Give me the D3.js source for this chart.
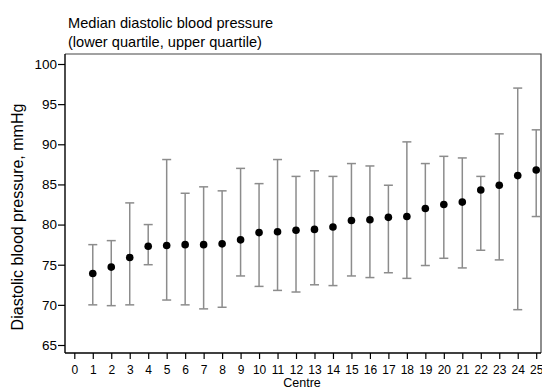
<!DOCTYPE html>
<html><head><meta charset="utf-8">
<script src="https://cdn.jsdelivr.net/npm/d3@7/dist/d3.min.js"></script>
<style>
html,body{margin:0;padding:0;background:#fff;}
text{font-family:"Liberation Sans",Arial,sans-serif;fill:#000;}
</style></head>
<body><svg id="c" width="542" height="387"></svg>
<script>
const centres = [1,2,3,4,5,6,7,8,9,10,11,12,13,14,15,16,17,18,19,20,21,22,23,24,25];
const medians = [73.9,74.7,75.9,77.3,77.4,77.5,77.5,77.6,78.1,79.0,79.1,79.3,79.4,79.7,80.5,80.6,80.9,81.0,82.0,82.5,82.8,84.3,84.9,86.1,86.8];
const lowerQ  = [70.0,69.9,70.0,75.0,70.6,70.0,69.5,69.7,73.6,72.3,71.8,71.6,72.5,72.4,73.6,73.4,74.0,73.3,74.9,75.8,74.6,76.8,75.6,69.4,81.0];
const upperQ  = [77.5,78.0,82.7,80.0,88.1,83.9,84.7,84.2,87.0,85.1,88.1,86.0,86.7,86.0,87.6,87.3,84.9,90.3,87.6,88.5,88.3,86.0,91.3,97.0,91.8];
const xTicks = d3.range(0,26);
const yTicks = [65,70,75,80,85,90,95,100];
const titleLines = ["Median diastolic blood pressure","(lower quartile, upper quartile)"];
const xLabel = "Centre";
const yLabel = "Diastolic blood pressure, mmHg";

const svg = d3.select("#c");
const box = {left:65, right:541, top:54, bottom:353};
const x = d3.scaleLinear().domain([0,25]).range([74.3,536.2]);
const y = d3.scaleLinear().domain([65,100]).range([345,64]);

// frame top/right
svg.append("path").attr("d",`M${box.left},${box.top}H${box.right}V${box.bottom}`)
  .attr("fill","none").attr("stroke","#444").attr("stroke-width",1.2);

const yAxis = svg.append("g").attr("transform",`translate(${box.left},0)`)
  .call(d3.axisLeft(y).tickValues(yTicks).tickSize(7).tickPadding(1));
yAxis.select(".domain").attr("d",`M0,${box.top}V${box.bottom}`);
const xAxis = svg.append("g").attr("transform",`translate(0,${box.bottom})`)
  .call(d3.axisBottom(x).tickValues(xTicks).tickSize(6).tickPadding(6));
xAxis.select(".domain").attr("d",`M${box.left},0H${box.right}`);
[yAxis,xAxis].forEach(a=>{
  a.selectAll(".domain").attr("stroke","#000").attr("stroke-width",1.4);
  a.selectAll(".tick line").attr("stroke","#000").attr("stroke-width",1.2);
  a.selectAll(".tick text").attr("font-family","Liberation Sans, Arial, sans-serif").attr("fill","#000");
});
yAxis.selectAll(".tick text").attr("font-size",13.5);
xAxis.selectAll(".tick text").attr("font-size",12);

const g = svg.append("g");
const rows = centres.map((c,i)=>({c, m:medians[i], lo:lowerQ[i], hi:upperQ[i]}));
const bars = g.selectAll("g.bar").data(rows).join("g");
bars.append("line").attr("x1",d=>x(d.c)).attr("x2",d=>x(d.c)).attr("y1",d=>y(d.lo)).attr("y2",d=>y(d.hi))
  .attr("stroke","#8c8c8c").attr("stroke-width",1.5);
bars.append("line").attr("x1",d=>x(d.c)-4.5).attr("x2",d=>x(d.c)+4.5).attr("y1",d=>y(d.lo)).attr("y2",d=>y(d.lo))
  .attr("stroke","#8c8c8c").attr("stroke-width",1.5);
bars.append("line").attr("x1",d=>x(d.c)-4.5).attr("x2",d=>x(d.c)+4.5).attr("y1",d=>y(d.hi)).attr("y2",d=>y(d.hi))
  .attr("stroke","#8c8c8c").attr("stroke-width",1.5);
bars.append("circle").attr("cx",d=>x(d.c)).attr("cy",d=>y(d.m)).attr("r",3.8).attr("fill","#000");

svg.append("text").attr("x",68).attr("y",28).attr("font-size",14.6).text(titleLines[0]);
svg.append("text").attr("x",68).attr("y",47).attr("font-size",14.6).text(titleLines[1]);
svg.append("text").attr("x",302).attr("y",386.5).attr("text-anchor","middle").attr("font-size",12.5).text(xLabel);
svg.append("text").attr("transform","translate(23,217) rotate(-90)").attr("text-anchor","middle").attr("font-size",16).text(yLabel);
</script></body></html>
